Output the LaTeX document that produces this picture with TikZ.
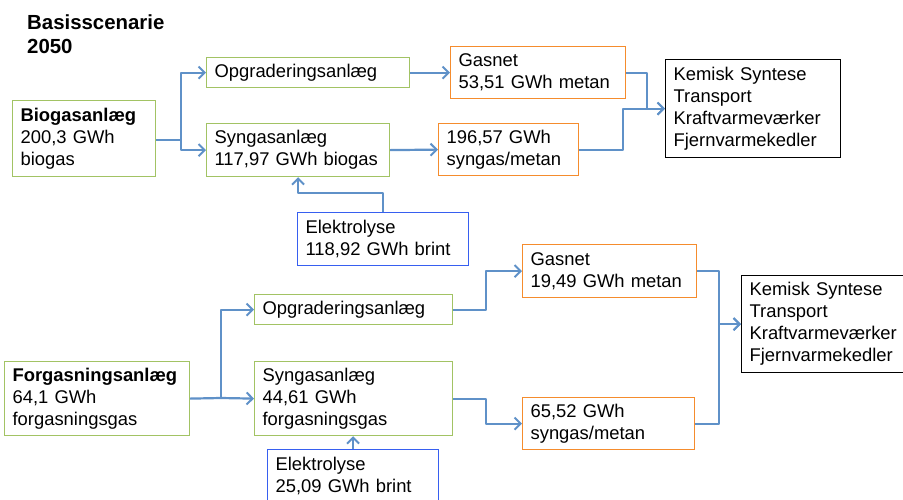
\documentclass[tikz,border=0pt]{standalone}
\usepackage{fontspec}
\setmainfont{Liberation Sans}
\usetikzlibrary{arrows.meta}
\definecolor{boxgreen}{RGB}{162,195,100}
\definecolor{boxorange}{RGB}{245,140,45}
\definecolor{boxblue}{RGB}{55,95,240}
\definecolor{arrowblue}{RGB}{95,145,200}
\tikzset{
  box/.style={draw, line width=1.2pt, anchor=north west, inner xsep=8pt, inner ysep=0pt, align=left, font=\fontsize{18.4}{22}\selectfont},
  gbox/.style={box, draw=boxgreen},
  obox/.style={box, draw=boxorange},
  bbox/.style={box, draw=boxblue},
  kbox/.style={box, draw=black},
  arr/.style={draw=arrowblue, line width=2.2pt, line join=round, -{Straight Barb[length=6pt,width=12pt,line width=2pt]}},
}
\begin{document}
\begin{tikzpicture}[x=1pt,y=-1pt]
\useasboundingbox (0,0) rectangle (903,499);
\node[anchor=north west, inner sep=0pt, align=left, font=\fontsize{20.4}{24}\selectfont\bfseries] (title) at (27,15) {Basisscenarie\\2050};
% top scenario
\node[gbox, text width=127pt, minimum height=76pt] (bio) at (12,100) {\textbf{Biogasanlæg}\\200,3 GWh\\biogas};
\node[gbox, text width=187pt, minimum height=30pt] (opg) at (206,57) {Opgraderingsanlæg};
\node[gbox, text width=167pt, minimum height=53pt] (syn) at (206,123) {Syngasanlæg\\117,97 GWh biogas};
\node[bbox, text width=155pt, minimum height=53pt] (el) at (297,212) {Elektrolyse\\118,92 GWh brint};
\node[obox, text width=159pt, minimum height=52pt] (gas) at (450,46) {Gasnet\\53,51 GWh metan};
\node[obox, text width=124pt, minimum height=52pt] (sg) at (438,123) {196,57 GWh\\syngas/metan};
\node[kbox, text width=159pt, minimum height=98pt] (kem) at (665,59) {Kemisk Syntese\\Transport\\Kraftvarmeværker\\Fjernvarmekedler};
% bottom scenario
\node[gbox, text width=169pt, minimum height=74pt] (forg) at (4,361) {\textbf{Forgasningsanlæg}\\64,1 GWh\\forgasningsgas};
\node[gbox, text width=182pt, minimum height=30pt] (opg2) at (254,294) {Opgraderingsanlæg};
\node[gbox, text width=182pt, minimum height=74pt] (syn2) at (254,361) {Syngasanlæg\\44,61 GWh\\forgasningsgas};
\node[bbox, text width=155pt, minimum height=52pt] (el2) at (267,449) {Elektrolyse\\25,09 GWh brint};
\node[obox, text width=158pt, minimum height=53pt] (gas2) at (522,244) {Gasnet\\19,49 GWh metan};
\node[obox, text width=156pt, minimum height=52pt] (sg2) at (522,397) {65,52 GWh\\syngas/metan};
\node[kbox, text width=154pt, minimum height=97pt] (kem2) at (741,275) {Kemisk Syntese\\Transport\\Kraftvarmeværker\\Fjernvarmekedler};
% connectors top
\coordinate (j1) at (181,140);
\draw[draw=arrowblue, line width=2.2pt] (bio.east |- j1) -- (j1);
\draw[arr] (j1) |- (opg.west);
\draw[arr] (j1) |- (syn.west);
\draw[arr] (opg.east) -- (gas.west);
\draw[arr] (syn.east) -- (sg.west);
\draw[arr] (el.north) -- ++(0,-19) -| (syn.south);
\draw[arr] (gas.east) -- ++(21,0) |- (kem.west);
\draw[arr] (sg.east) -- ++(44,0) |- (kem.west);
% connectors bottom
\coordinate (j2) at (221,398);
\draw[draw=arrowblue, line width=2.2pt] (forg.east) -- (j2);
\draw[arr] (j2) |- (opg2.west);
\draw[arr] (j2) -- (syn2.west);
\draw[arr] (opg2.east) -- ++(33,0) |- (gas2.west);
\draw[arr] (syn2.east) -- ++(33,0) |- (sg2.west);
\draw[arr] (el2.north) -- (el2.north |- syn2.south);
\draw[arr] (gas2.east) -- ++(22,0) |- (kem2.west);
\draw[arr] (sg2.east) -- ++(24,0) |- (kem2.west);
\end{tikzpicture}
\end{document}
